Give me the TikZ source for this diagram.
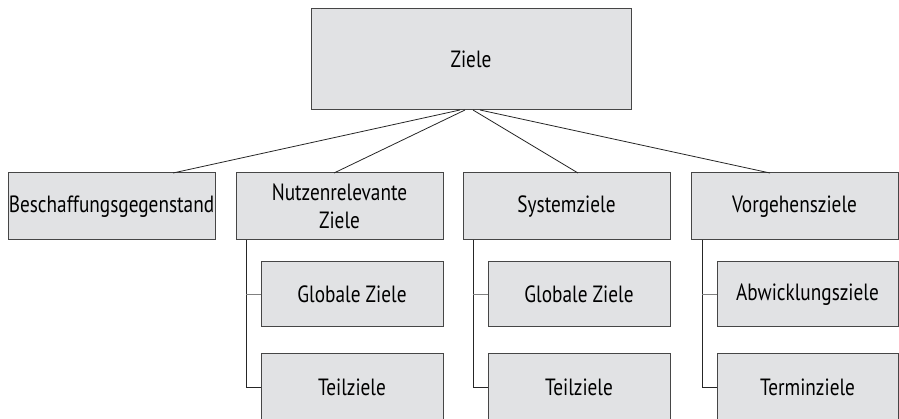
\documentclass[tikz,border=0pt]{standalone}
\usepackage{fontspec}
\setmainfont{PT Sans}[FakeStretch=0.82]
\usepackage{tikz}
\usetikzlibrary{positioning}
\definecolor{mfill}{RGB}{225, 226, 228}
\definecolor{mline}{RGB}{70, 70, 70}
\tikzset{box/.style = {draw=mline, fill=mfill, line width=1pt, inner sep=0pt, outer sep=0pt,
                       align=center, font=\fontsize{23.5}{28}\selectfont},
         top/.style = {box, minimum width=320pt, minimum height=101pt},
         mid/.style = {box, minimum width=207pt, minimum height=67pt},
         sub/.style = {box, minimum width=182pt, minimum height=65pt},
         link/.style = {line width=0.8pt, black!85}}

\begin{document}
\begin{tikzpicture}[x=1pt, y=-1pt]
    \useasboundingbox (0, 0) rectangle (899, 419);
    \clip (0, 0) rectangle (899, 419);

    \node [top] (ziele) at (471, 59.5) {Ziele};

    \node [mid] (besch) at (111.5, 206.5) {Beschaffungsgegenstand};
    \node [mid] (nutzen) at (339.5, 206.5) {Nutzenrelevante\\Ziele};
    \node [mid] (system) at (566.5, 206.5) {Systemziele};
    \node [mid] (vorgehen) at (794.5, 206.5) {Vorgehensziele};

    \node [sub] (nutzenglobal) at (352, 294.5) {Globale Ziele};
    \node [sub, minimum height=68pt] (nutzenteil) at (352, 387) {Teilziele};
    \node [sub] (systemglobal) at (579, 294.5) {Globale Ziele};
    \node [sub, minimum height=68pt] (systemteil) at (579, 387) {Teilziele};
    \node [sub, minimum width=181pt] (abwicklung) at (807.5, 294.5) {Abwicklungsziele};
    \node [sub, minimum width=181pt, minimum height=68pt] (termin) at (807.5, 387) {Terminziele};

    \draw [link] ([xshift=-11pt]ziele.south) -- ([xshift=61.5pt]besch.north);
    \draw [link] ([xshift=-6pt]ziele.south) -- ([xshift=-5.5pt]nutzen.north);
    \draw [link] ([xshift=2pt]ziele.south) -- ([xshift=11.5pt]system.north);
    \draw [link] ([xshift=9pt]ziele.south) -- ([xshift=-24.5pt]vorgehen.north);

    \draw [link] ([xshift=10pt]nutzen.south west) |- (nutzenteil.west);
    \draw [link, gray, line width=1.3pt] ([xshift=10pt]nutzen.south west |- nutzenglobal.west) -- (nutzenglobal.west);
    \draw [link] ([xshift=10pt]system.south west) |- (systemteil.west);
    \draw [link, gray, line width=1.3pt] ([xshift=10pt]system.south west |- systemglobal.west) -- (systemglobal.west);
    \draw [link] ([xshift=11pt]vorgehen.south west) |- (termin.west);
    \draw [link, gray, line width=1.3pt] ([xshift=11pt]vorgehen.south west |- abwicklung.west) -- (abwicklung.west);
\end{tikzpicture}
\end{document}
